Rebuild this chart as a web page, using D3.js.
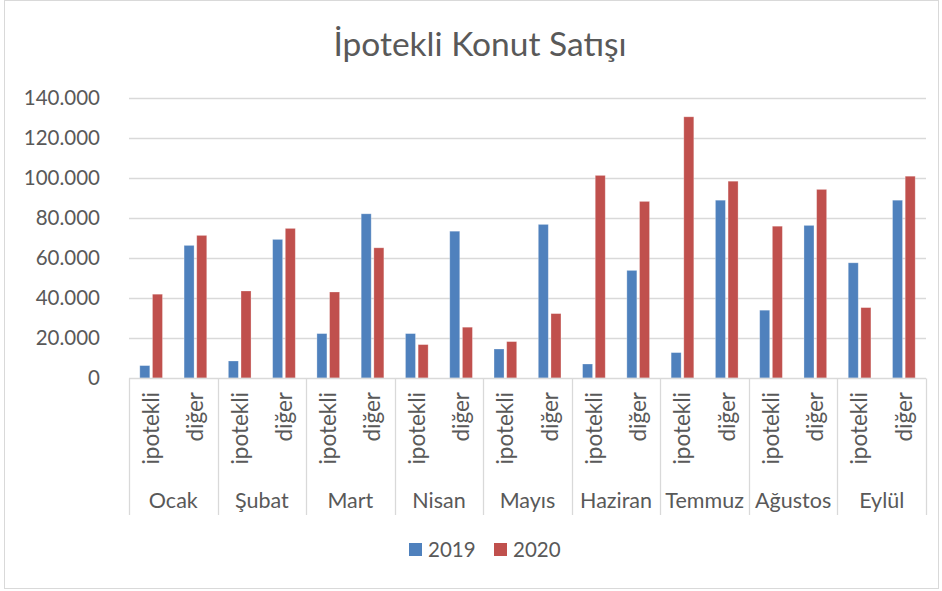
<!DOCTYPE html>
<html>
<head>
<meta charset="utf-8">
<script src="https://cdn.jsdelivr.net/npm/d3@7"></script>
<style>
  body { margin: 0; background: #fff; }
  svg { display: block; font-family: Lato, "Open Sans", sans-serif; }
</style>
</head>
<body>
<div id="chart"></div>
<script>
const months = ['Ocak', 'Şubat', 'Mart', 'Nisan', 'Mayıs', 'Haziran', 'Temmuz', 'Ağustos', 'Eylül'];
const kinds = ['ipotekli', 'diğer'];
const seriesNames = ['2019', '2020'];
// one value per month x kind, in order: ipotekli, diğer
const values2019 = [6200, 66300, 8500, 69300, 22200, 82100, 22200, 73400, 14500, 76800,
  7000, 53800, 12700, 88900, 33900, 76300, 57600, 88900];
const values2020 = [41900, 71300, 43500, 74800, 43000, 65100, 16700, 25400, 18200, 32200,
  101300, 88300, 130600, 98400, 75900, 94300, 35200, 100900];
const yTicks = [0, 20000, 40000, 60000, 80000, 100000, 120000, 140000];

const COLORS = { '2019': '#4F81BD', '2020': '#C0504D' };
const width = 942, height = 591;
const margin = { top: 98, right: 16, bottom: 213, left: 129 };

const rows = [];
months.forEach((m, i) => kinds.forEach((k, j) => {
  const idx = i * 2 + j;
  rows.push({ key: m + '|' + k, month: m, kind: k, '2019': values2019[idx], '2020': values2020[idx] });
}));

const svg = d3.select('#chart').append('svg')
  .attr('width', width).attr('height', height);

// chart frame
svg.append('rect')
  .attr('x', 4.5).attr('y', 0.5).attr('width', 934).attr('height', 588)
  .attr('fill', '#fff').attr('stroke', '#d9d9d9');

const x0 = d3.scaleBand()
  .domain(rows.map(d => d.key))
  .range([margin.left, width - margin.right]);

const x1 = d3.scaleBand()
  .domain(seriesNames)
  .range([x0.bandwidth() * 0.244, x0.bandwidth() * 0.756])
  .paddingInner(0.21);

const y = d3.scaleLinear()
  .domain([0, 140000])
  .range([height - margin.bottom, margin.top]);

const fmt = v => d3.format(',')(v).replace(/,/g, '.');

// gridlines
svg.append('g')
  .selectAll('line')
  .data(yTicks.slice(1))
  .join('line')
  .attr('x1', margin.left).attr('x2', width - margin.right)
  .attr('y1', d => Math.round(y(d)) + 0.5).attr('y2', d => Math.round(y(d)) + 0.5)
  .attr('stroke', '#d9d9d9').attr('stroke-width', 1.3);

// y labels
svg.append('g')
  .selectAll('text')
  .data(yTicks)
  .join('text')
  .attr('x', 100).attr('y', d => y(d))
  .attr('dy', '0.35em')
  .attr('text-anchor', 'end')
  .attr('fill', '#595959')
  .attr('font-size', 20.5)
  .text(d => fmt(d));

// bars
const groups = svg.append('g')
  .selectAll('g')
  .data(rows)
  .join('g')
  .attr('transform', d => `translate(${x0(d.key)},0)`);

groups.selectAll('rect')
  .data(d => seriesNames.map(s => ({ s, v: d[s] })))
  .join('rect')
  .attr('x', d => x1(d.s))
  .attr('y', d => y(d.v))
  .attr('width', x1.bandwidth())
  .attr('height', d => y(0) - y(d.v))
  .attr('fill', d => COLORS[d.s])
  .attr('stroke', '#fff').attr('stroke-opacity', 0.35).attr('stroke-width', 0.8);

// x axis line and group separators
const axisY = Math.round(y(0)) + 0.5;
svg.append('line')
  .attr('x1', margin.left).attr('x2', width - margin.right)
  .attr('y1', axisY).attr('y2', axisY)
  .attr('stroke', '#d9d9d9').attr('stroke-width', 1.3);

const monthBand = d3.scaleBand()
  .domain(months)
  .range([margin.left, width - margin.right]);

const seps = months.map(m => monthBand(m)).concat([width - margin.right]);
svg.append('g')
  .selectAll('line')
  .data(seps)
  .join('line')
  .attr('x1', d => Math.round(d) + 0.5).attr('x2', d => Math.round(d) + 0.5)
  .attr('y1', axisY).attr('y2', 515)
  .attr('stroke', '#d9d9d9').attr('stroke-width', 1.3);

// inner category labels (rotated)
svg.append('g')
  .selectAll('text')
  .data(rows)
  .join('text')
  .attr('transform', d => `translate(${x0(d.key) + x0.bandwidth() / 2},392) rotate(-90)`)
  .attr('dy', '0.35em')
  .attr('text-anchor', 'end')
  .attr('fill', '#595959')
  .attr('font-size', 22.5)
  .text(d => d.kind);

// month labels
svg.append('g')
  .selectAll('text')
  .data(months)
  .join('text')
  .attr('x', d => monthBand(d) + monthBand.bandwidth() / 2)
  .attr('y', 500)
  .attr('dy', '0.35em')
  .attr('text-anchor', 'middle')
  .attr('fill', '#595959')
  .attr('font-size', 21.5)
  .text(d => d);

// title
svg.append('text')
  .attr('x', 480).attr('y', 56)
  .attr('text-anchor', 'middle')
  .attr('fill', '#595959')
  .attr('font-size', 33.5)
  .text('İpotekli Konut Satışı');

// legend
const legendX = [409, 494];
const legend = svg.append('g')
  .selectAll('g')
  .data(seriesNames)
  .join('g')
  .attr('transform', (d, i) => `translate(${legendX[i]},543)`);
legend.append('rect')
  .attr('width', 13).attr('height', 13)
  .attr('fill', d => COLORS[d]);
legend.append('text')
  .attr('x', 19).attr('y', 7)
  .attr('dy', '0.35em')
  .attr('fill', '#595959')
  .attr('font-size', 20.5)
  .text(d => d);
</script>
</body>
</html>
